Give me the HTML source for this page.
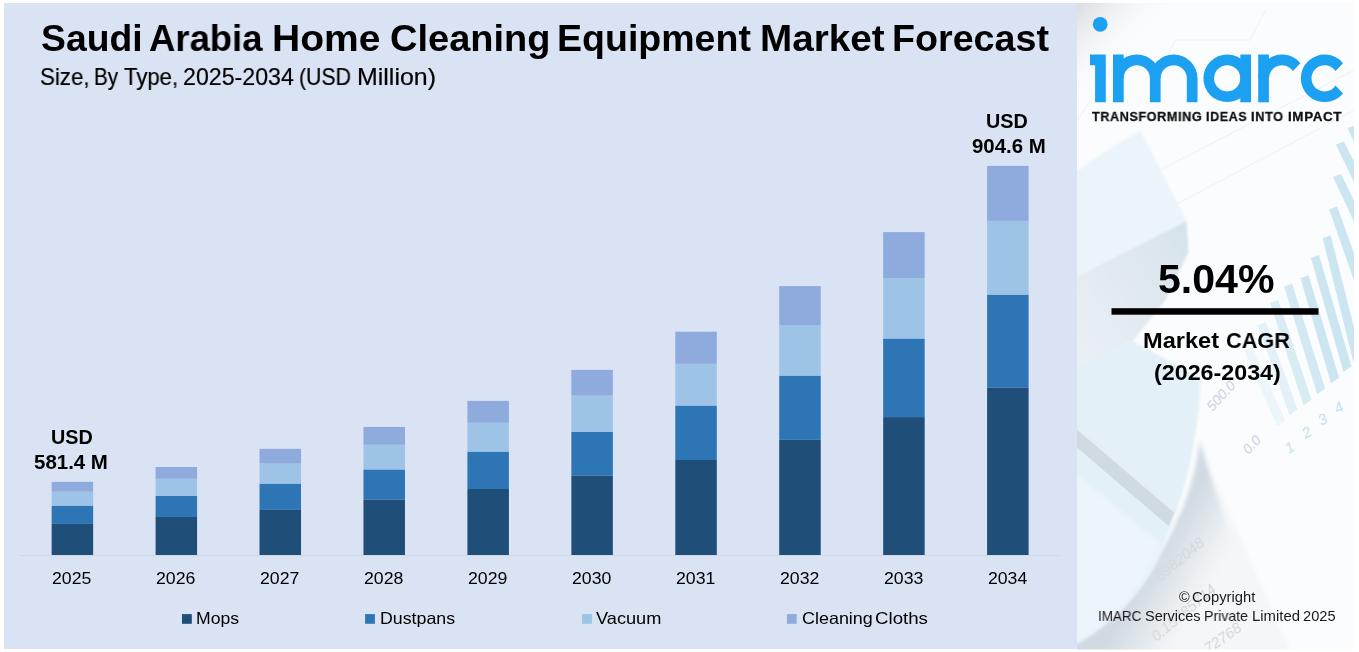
<!DOCTYPE html>
<html><head><meta charset="utf-8"><title>Saudi Arabia Home Cleaning Equipment Market Forecast</title>
<style>
html,body{margin:0;padding:0;background:#fff;}
body{width:1359px;height:652px;position:relative;overflow:hidden;font-family:"Liberation Sans",sans-serif;}
.t{position:absolute;white-space:pre;transform-origin:0 0;color:#000;will-change:transform;}
#lp{position:absolute;left:4px;top:3px;width:1073px;height:645.5px;background:#DAE3F3;}
svg{display:block}
</style></head><body>
<div id="lp"></div>
<svg width="277.5" height="646.6" viewBox="0 0 277.5 646.6" style="position:absolute;left:1076.5px;top:3px">
<defs>
<filter id="b6" x="-20%" y="-20%" width="140%" height="140%"><feGaussianBlur stdDeviation="6"/></filter>
<filter id="b3" x="-20%" y="-20%" width="140%" height="140%"><feGaussianBlur stdDeviation="2.2"/></filter>
<filter id="b2" x="-20%" y="-20%" width="140%" height="140%"><feGaussianBlur stdDeviation="1.3"/></filter>
<filter id="b1" x="-20%" y="-20%" width="140%" height="140%"><feGaussianBlur stdDeviation="0.7"/></filter>
<linearGradient id="tl" x1="0" y1="0" x2="1" y2="1"><stop offset="0" stop-color="#DADDE0"/><stop offset="0.2" stop-color="#F1F3F4" stop-opacity="0.6"/><stop offset="0.36" stop-color="#ffffff" stop-opacity="0"/></linearGradient>
<linearGradient id="side" x1="1" y1="0" x2="0" y2="1"><stop offset="0" stop-color="#D6E2EA"/><stop offset="0.6" stop-color="#E4ECF2"/><stop offset="1" stop-color="#EDF3F7"/></linearGradient>
<linearGradient id="curl" gradientUnits="userSpaceOnUse" x1="63.5" y1="582" x2="125.5" y2="618"><stop offset="0" stop-color="#D1DAE2"/><stop offset="0.5" stop-color="#E6EBEF"/><stop offset="1" stop-color="#F7F9FA" stop-opacity="0"/></linearGradient>
<clipPath id="cp"><rect width="277.5" height="646.6"/></clipPath>
</defs>
<g clip-path="url(#cp)">
<rect width="277.5" height="646.6" fill="#FAFCFD"/>
<!-- box top face -->
<path d="M-6.5,173.0 Q28.5,147.0 63.5,128.0 L109.5,218.0 L-6.5,276.0 Z" fill="#EAF4FA" filter="url(#b2)"/>
<!-- box side face -->
<polygon points="-6.5,276.0 109.5,218.0 111.5,249.0 88.5,297.0 48.5,347.0 -6.5,392.0" fill="url(#side)" filter="url(#b2)"/>
<!-- sheet with numbers right of curl -->
<polygon points="119.5,459.0 138.5,477.0 213.5,649.0 23.5,649.0 99.5,557.0" fill="#F4F6F8" filter="url(#b3)"/>
<path d="M122.5,437.0 C119.5,477.0 103.5,517.0 76.5,563.0 C61.5,591.0 35.5,621.0 -10.5,645.0 L-10.5,657.0 L138.5,657.0 L159.5,557.0 Z" fill="url(#curl)" filter="url(#b3)"/>
<!-- lower-left pale blue paper -->
<path d="M-6.5,367.0 L53.5,337.0 L123.5,375.0 C121.5,447.0 103.5,509.0 76.5,563.0 C61.5,591.0 35.5,621.0 -10.5,645.0 L-10.5,367.0 Z" fill="#E4F0F8" filter="url(#b2)"/>
<path d="M-6.5,467.0 L83.5,542.0 C61.5,591.0 35.5,621.0 -10.5,645.0 Z" fill="#ECF5FB" filter="url(#b3)"/>
<!-- diagonal band -->
<polygon points="-6.5,419.0 97.5,509.0 91.5,523.0 -6.5,439.0" fill="#CFDAE3" filter="url(#b1)"/>
<polygon points="-6.5,416.0 99.5,506.0 97.5,510.0 -6.5,421.0" fill="#E6EEF3" filter="url(#b1)"/>
<!-- faint grid lines -->
<g stroke="#EEF1F3" stroke-width="1" fill="none" filter="url(#b1)">
<path d="M0.5,117.0 L33.5,67.0 L83.5,67.0 L98.5,37.0 L173.5,37.0 L188.5,7.0"/>
<path d="M73.5,172.0 L277.5,67.0"/><path d="M88.5,207.0 L277.5,107.0"/>
</g>
<text x="135.5" y="409.0" font-size="14" fill="#C9D3E4" opacity="1" font-style="italic" transform="rotate(-47 135.5 409.0)" font-family="Liberation Sans, sans-serif">500.0</text><text x="171.5" y="452.0" font-size="14" fill="#C9D3E4" opacity="1" font-style="italic" transform="rotate(-47 171.5 452.0)" font-family="Liberation Sans, sans-serif">0.0</text><text x="211.5" y="451.0" font-size="15" fill="#C6DFEC" opacity="1" font-style="italic" transform="rotate(-30 211.5 451.0)" font-family="Liberation Sans, sans-serif">1</text><text x="228.5" y="436.0" font-size="15" fill="#C6DFEC" opacity="1" font-style="italic" transform="rotate(-30 228.5 436.0)" font-family="Liberation Sans, sans-serif">2</text><text x="244.5" y="423.0" font-size="15" fill="#C6DFEC" opacity="1" font-style="italic" transform="rotate(-30 244.5 423.0)" font-family="Liberation Sans, sans-serif">3</text><text x="260.5" y="411.0" font-size="15" fill="#C6DFEC" opacity="1" font-style="italic" transform="rotate(-30 260.5 411.0)" font-family="Liberation Sans, sans-serif">4</text><text x="83.5" y="579.0" font-size="15" fill="#D6D9DD" opacity="1" font-style="italic" transform="rotate(-40 83.5 579.0)" font-family="Liberation Sans, sans-serif">6982048</text><text x="79.5" y="639.0" font-size="15" fill="#D6D9DD" opacity="1" font-style="italic" transform="rotate(-40 79.5 639.0)" font-family="Liberation Sans, sans-serif">0.15785714</text><text x="131.5" y="651.0" font-size="15" fill="#D6D9DD" opacity="1" font-style="italic" transform="rotate(-35 131.5 651.0)" font-family="Liberation Sans, sans-serif">72768</text>
<!-- pale bars -->
<g filter="url(#b1)"><polygon points="167.0,347.0 175.0,344.0 208.1,417.4 200.1,423.0" fill="#CBE6F1" opacity="0.30"/><polygon points="180.8,322.3 188.8,319.3 220.5,406.4 212.5,412.0" fill="#CBE6F1" opacity="0.50"/><polygon points="193.2,300.0 201.2,297.0 234.5,396.8 226.5,402.4" fill="#CBE6F1" opacity="0.70"/><polygon points="207.1,283.6 215.1,280.6 248.2,385.7 240.2,391.3" fill="#CBE6F1" opacity="0.85"/><polygon points="223.5,275.3 231.5,272.3 262.0,374.7 254.0,380.3" fill="#CBE6F1" opacity="1.00"/><polygon points="234.0,254.9 242.0,251.9 274.5,363.4 266.5,369.0" fill="#CBE6F1" opacity="1.00"/><polygon points="245.7,235.3 253.7,232.3 284.1,352.4 276.1,358.0" fill="#CBE6F1" opacity="1.00"/><polygon points="252.2,206.6 260.2,203.6 293.5,296.4 285.5,302.0" fill="#CBE6F1" opacity="1.00"/><polygon points="256.1,174.0 264.1,171.0 293.5,231.4 285.5,237.0" fill="#CBE6F1" opacity="1.00"/><polygon points="258.8,141.4 266.8,138.4 293.5,191.4 285.5,197.0" fill="#CBE6F1" opacity="1.00"/><polygon points="270.5,125.0 278.5,122.0 293.5,151.4 285.5,157.0" fill="#CBE6F1" opacity="1.00"/></g>
<!-- top-left grey corner -->
<rect width="160" height="160" fill="url(#tl)"/>
</g>
</svg>
<svg width="1359" height="652" viewBox="0 0 1359 652" style="position:absolute;left:0;top:0">
<rect x="20.0" y="555.0" width="1039.0" height="1" fill="#D2D6DD"/>
<g shape-rendering="geometricPrecision">
<rect x="51.65" y="481.90" width="41.50" height="9.90" fill="#8FAADC"/>
<rect x="51.65" y="491.80" width="41.50" height="14.10" fill="#9DC3E6"/>
<rect x="51.65" y="505.90" width="41.50" height="18.00" fill="#2E75B6"/>
<rect x="51.65" y="523.90" width="41.50" height="31.10" fill="#1F4E79"/>
<rect x="155.59" y="467.00" width="41.50" height="11.80" fill="#8FAADC"/>
<rect x="155.59" y="478.80" width="41.50" height="17.20" fill="#9DC3E6"/>
<rect x="155.59" y="496.00" width="41.50" height="21.00" fill="#2E75B6"/>
<rect x="155.59" y="517.00" width="41.50" height="38.00" fill="#1F4E79"/>
<rect x="259.53" y="448.80" width="41.50" height="14.90" fill="#8FAADC"/>
<rect x="259.53" y="463.70" width="41.50" height="20.20" fill="#9DC3E6"/>
<rect x="259.53" y="483.90" width="41.50" height="26.00" fill="#2E75B6"/>
<rect x="259.53" y="509.90" width="41.50" height="45.10" fill="#1F4E79"/>
<rect x="363.47" y="426.90" width="41.50" height="17.90" fill="#8FAADC"/>
<rect x="363.47" y="444.80" width="41.50" height="24.90" fill="#9DC3E6"/>
<rect x="363.47" y="469.70" width="41.50" height="30.00" fill="#2E75B6"/>
<rect x="363.47" y="499.70" width="41.50" height="55.30" fill="#1F4E79"/>
<rect x="467.41" y="400.90" width="41.50" height="21.90" fill="#8FAADC"/>
<rect x="467.41" y="422.80" width="41.50" height="29.10" fill="#9DC3E6"/>
<rect x="467.41" y="451.90" width="41.50" height="37.10" fill="#2E75B6"/>
<rect x="467.41" y="489.00" width="41.50" height="66.00" fill="#1F4E79"/>
<rect x="571.35" y="369.90" width="41.50" height="25.80" fill="#8FAADC"/>
<rect x="571.35" y="395.70" width="41.50" height="36.30" fill="#9DC3E6"/>
<rect x="571.35" y="432.00" width="41.50" height="43.70" fill="#2E75B6"/>
<rect x="571.35" y="475.70" width="41.50" height="79.30" fill="#1F4E79"/>
<rect x="675.29" y="331.70" width="41.50" height="32.20" fill="#8FAADC"/>
<rect x="675.29" y="363.90" width="41.50" height="41.90" fill="#9DC3E6"/>
<rect x="675.29" y="405.80" width="41.50" height="54.20" fill="#2E75B6"/>
<rect x="675.29" y="460.00" width="41.50" height="95.00" fill="#1F4E79"/>
<rect x="779.23" y="286.10" width="41.50" height="38.90" fill="#8FAADC"/>
<rect x="779.23" y="325.00" width="41.50" height="50.90" fill="#9DC3E6"/>
<rect x="779.23" y="375.90" width="41.50" height="63.90" fill="#2E75B6"/>
<rect x="779.23" y="439.80" width="41.50" height="115.20" fill="#1F4E79"/>
<rect x="883.17" y="232.10" width="41.50" height="45.90" fill="#8FAADC"/>
<rect x="883.17" y="278.00" width="41.50" height="60.80" fill="#9DC3E6"/>
<rect x="883.17" y="338.80" width="41.50" height="78.30" fill="#2E75B6"/>
<rect x="883.17" y="417.10" width="41.50" height="137.90" fill="#1F4E79"/>
<rect x="987.11" y="165.90" width="41.50" height="55.00" fill="#8FAADC"/>
<rect x="987.11" y="220.90" width="41.50" height="74.00" fill="#9DC3E6"/>
<rect x="987.11" y="294.90" width="41.50" height="92.80" fill="#2E75B6"/>
<rect x="987.11" y="387.70" width="41.50" height="167.30" fill="#1F4E79"/>
<rect x="182" y="614.1" width="9.8" height="9.7" fill="#1F4E79"/><rect x="365.1" y="614.1" width="9.8" height="9.7" fill="#2E75B6"/><rect x="582.1" y="614.1" width="9.8" height="9.7" fill="#9DC3E6"/><rect x="786.9" y="614.1" width="9.8" height="9.7" fill="#8FAADC"/>
</g>
<g fill="#1CA0F2"><circle cx="1100.2" cy="24.3" r="7.4"/><path d="M1090,54.5 H1105.8 V102.3 H1095.1 V65.2 H1090 Z"/><rect x="1113.0" y="54.5" width="10.70" height="47.80"/><path d="M1113.00,78.30 A23.8,23.8 0 0 1 1160.60,78.30 V102.3 H1149.90 V78.30 A13.1,13.1 0 0 0 1123.70,78.30 Z"/><path d="M1149.90,78.30 A23.8,23.8 0 0 1 1197.50,78.30 V102.3 H1186.80 V78.30 A13.1,13.1 0 0 0 1160.60,78.30 Z"/><path fill-rule="evenodd" d="M1203.40,78.30 a23.8,23.8 0 1 0 47.6,0 a23.8,23.8 0 1 0 -47.6,0 Z M1214.10,78.30 a13.1,13.1 0 1 0 26.2,0 a13.1,13.1 0 1 0 -26.2,0 Z"/><rect x="1240.30" y="54.5" width="10.70" height="47.80"/><rect x="1258.2" y="54.5" width="10.70" height="47.80"/><path d="M1258.20,78.30 A23.8,23.8 0 0 1 1300.36,63.16 L1292.91,71.05 A13.1,13.1 0 0 0 1268.90,78.30 Z"/><path d="M1342.96,63.16 A23.8,23.8 0 1 0 1342.96,93.44 L1335.51,85.55 A13.1,13.1 0 1 1 1335.51,71.05 Z"/></g>
<rect x="1111.5" y="308.2" width="207" height="6.5" fill="#000"/>
</svg>
<div class="t" style="left:40.61px;top:18px;font-size:36.8px;line-height:41px;font-weight:bold;transform:scaleX(1.0141);">Saudi</div>
<div class="t" style="left:149.04px;top:18px;font-size:36.8px;line-height:41px;font-weight:bold;transform:scaleX(0.9916);">Arabia</div>
<div class="t" style="left:271.78px;top:18px;font-size:36.8px;line-height:41px;font-weight:bold;transform:scaleX(1.0608);">Home</div>
<div class="t" style="left:389.75px;top:18px;font-size:36.8px;line-height:41px;font-weight:bold;transform:scaleX(1.0331);">Cleaning</div>
<div class="t" style="left:556.80px;top:18px;font-size:36.8px;line-height:41px;font-weight:bold;transform:scaleX(1.0200);">Equipment</div>
<div class="t" style="left:759.61px;top:18px;font-size:36.8px;line-height:41px;font-weight:bold;transform:scaleX(1.0508);">Market</div>
<div class="t" style="left:891.99px;top:18px;font-size:36.8px;line-height:41px;font-weight:bold;transform:scaleX(1.0230);">Forecast</div>
<div class="t" style="left:40.05px;top:64px;font-size:23.2px;line-height:26px;-webkit-text-stroke:0.2px #000;transform:scaleX(0.9639) rotate(0.03deg);">Size,</div>
<div class="t" style="left:94.09px;top:64px;font-size:23.2px;line-height:26px;-webkit-text-stroke:0.2px #000;transform:scaleX(0.8910) rotate(0.03deg);">By</div>
<div class="t" style="left:123.97px;top:64px;font-size:23.2px;line-height:26px;-webkit-text-stroke:0.2px #000;transform:scaleX(0.9549) rotate(0.03deg);">Type,</div>
<div class="t" style="left:183.03px;top:64px;font-size:23.2px;line-height:26px;-webkit-text-stroke:0.2px #000;transform:rotate(0.03deg);">2025-2034</div>
<div class="t" style="left:298.90px;top:64px;font-size:23.2px;line-height:26px;-webkit-text-stroke:0.2px #000;transform:scaleX(0.9159) rotate(0.03deg);">(USD</div>
<div class="t" style="left:357.04px;top:64px;font-size:23.2px;line-height:26px;-webkit-text-stroke:0.2px #000;transform:scaleX(1.0759) rotate(0.03deg);">Million)</div>
<div class="t" style="left:50.73px;top:426px;font-size:19.8px;line-height:22px;font-weight:bold;transform:scaleX(0.9903);">USD</div>
<div class="t" style="left:34.37px;top:451px;font-size:19.8px;line-height:22px;font-weight:bold;transform:scaleX(1.0340);">581.4 M</div>
<div class="t" style="left:985.73px;top:110px;font-size:19.8px;line-height:22px;font-weight:bold;transform:scaleX(0.9903);">USD</div>
<div class="t" style="left:971.71px;top:135px;font-size:19.8px;line-height:22px;font-weight:bold;transform:scaleX(1.0334);">904.6 M</div>
<div class="t" style="left:52.31px;top:569px;font-size:17px;line-height:19px;transform:scaleX(1.0395);">2025</div>
<div class="t" style="left:156.27px;top:569px;font-size:17px;line-height:19px;transform:scaleX(1.0396);">2026</div>
<div class="t" style="left:260.23px;top:569px;font-size:17px;line-height:19px;transform:scaleX(1.0402);">2027</div>
<div class="t" style="left:364.19px;top:569px;font-size:17px;line-height:19px;transform:scaleX(1.0396);">2028</div>
<div class="t" style="left:468.15px;top:569px;font-size:17px;line-height:19px;transform:scaleX(1.0400);">2029</div>
<div class="t" style="left:572.11px;top:569px;font-size:17px;line-height:19px;transform:scaleX(1.0390);">2030</div>
<div class="t" style="left:676.07px;top:569px;font-size:17px;line-height:19px;transform:scaleX(1.0400);">2031</div>
<div class="t" style="left:780.03px;top:569px;font-size:17px;line-height:19px;transform:scaleX(1.0402);">2032</div>
<div class="t" style="left:883.99px;top:569px;font-size:17px;line-height:19px;transform:scaleX(1.0396);">2033</div>
<div class="t" style="left:987.95px;top:569px;font-size:17px;line-height:19px;transform:scaleX(1.0370);">2034</div>
<div class="t" style="left:196.44px;top:609px;font-size:16.5px;line-height:18px;transform:scaleX(1.0661);">Mops</div>
<div class="t" style="left:380.13px;top:609px;font-size:16.5px;line-height:18px;transform:scaleX(1.0773);">Dustpans</div>
<div class="t" style="left:596.32px;top:609px;font-size:16.5px;line-height:18px;transform:scaleX(1.1021);">Vacuum</div>
<div class="t" style="left:801.51px;top:609px;font-size:16.5px;line-height:18px;transform:scaleX(1.0870);">Cleaning</div>
<div class="t" style="left:874.57px;top:609px;font-size:16.5px;line-height:18px;transform:scaleX(1.1324);">Cloths</div>
<div class="t" style="left:1158.10px;top:257px;font-size:40px;line-height:44px;font-weight:bold;transform:scaleX(1.0269);">5.04%</div>
<div class="t" style="left:1143.44px;top:328px;font-size:22.4px;line-height:25px;font-weight:bold;transform:scaleX(1.0540);">Market</div>
<div class="t" style="left:1225.80px;top:328px;font-size:22.4px;line-height:25px;font-weight:bold;transform:scaleX(0.9702);">CAGR</div>
<div class="t" style="left:1153.98px;top:360px;font-size:22.1px;line-height:25px;font-weight:bold;transform:scaleX(1.0533);">(2026-2034)</div>
<div class="t" style="left:1179.02px;top:589px;font-size:14.5px;line-height:16px;color:#1a1a1a;transform:scaleX(0.9588);">©</div>
<div class="t" style="left:1192.40px;top:589px;font-size:14.5px;line-height:16px;color:#1a1a1a;transform:scaleX(1.0200);">Copyright</div>
<div class="t" style="left:1097.98px;top:608px;font-size:14.5px;line-height:16px;color:#1a1a1a;transform:scaleX(0.9274);">IMARC</div>
<div class="t" style="left:1145.07px;top:608px;font-size:14.5px;line-height:16px;color:#1a1a1a;transform:scaleX(0.9974);">Services</div>
<div class="t" style="left:1204.34px;top:608px;font-size:14.5px;line-height:16px;color:#1a1a1a;transform:scaleX(0.9756);">Private</div>
<div class="t" style="left:1251.50px;top:608px;font-size:14.5px;line-height:16px;color:#1a1a1a;transform:scaleX(1.0251);">Limited</div>
<div class="t" style="left:1302.92px;top:608px;font-size:14.5px;line-height:16px;color:#1a1a1a;transform:scaleX(1.0111);">2025</div>
<div class="t" style="left:1092.43px;top:109px;font-size:13px;line-height:15px;font-weight:bold;color:#111;letter-spacing:0.6px;-webkit-text-stroke:0.3px #111;transform:scaleX(0.9720);">TRANSFORMING</div>
<div class="t" style="left:1206.02px;top:109px;font-size:13px;line-height:15px;font-weight:bold;color:#111;letter-spacing:0.6px;-webkit-text-stroke:0.3px #111;transform:scaleX(0.9635);">IDEAS</div>
<div class="t" style="left:1251.40px;top:109px;font-size:13px;line-height:15px;font-weight:bold;color:#111;letter-spacing:0.6px;-webkit-text-stroke:0.3px #111;transform:scaleX(0.9814);">INTO</div>
<div class="t" style="left:1288.26px;top:109px;font-size:13px;line-height:15px;font-weight:bold;color:#111;letter-spacing:0.6px;-webkit-text-stroke:0.3px #111;transform:scaleX(1.0328);">IMPACT</div>
</body></html>
